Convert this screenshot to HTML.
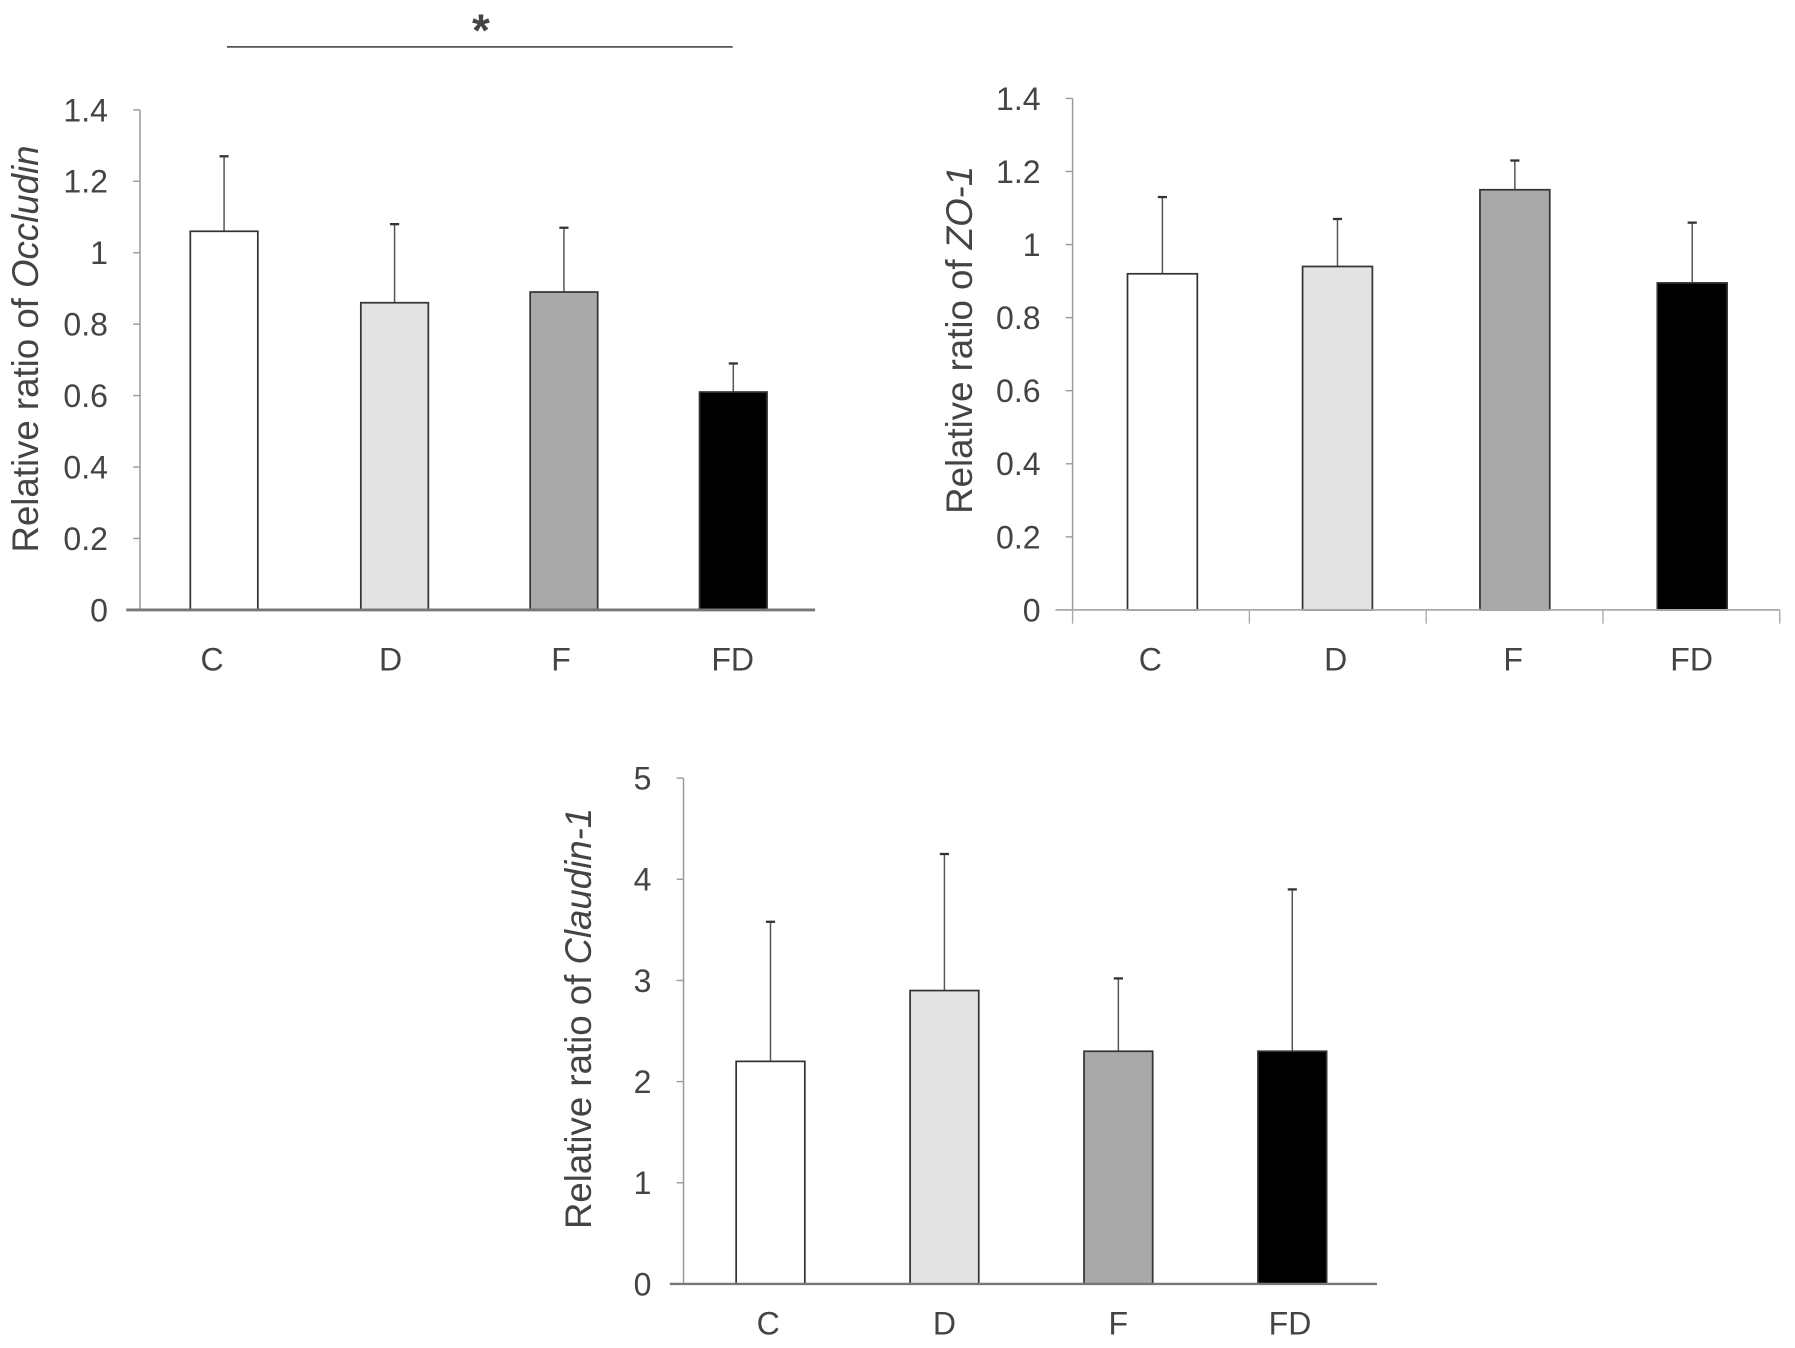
<!DOCTYPE html>
<html><head><meta charset="utf-8"><style>
html,body{margin:0;padding:0;background:#fff}
svg{display:block}
text{font-family:"Liberation Sans",Arial,sans-serif;fill:#444}
</style></head><body>
<svg id="svg" width="1795" height="1348" viewBox="0 0 1568 1178" xmlns="http://www.w3.org/2000/svg">
<g id="sig">
<line x1="198" y1="41" x2="640" y2="41" stroke="#555" stroke-width="1.5"/>
<text x="420" y="40" font-size="40" font-weight="bold" text-anchor="middle" fill="#222">*</text>
</g>
</svg>
<script>
const cats = ["C","D","F","FD"];
const fills = ["#fff","#e3e3e3","#a9a9a9","#000"];
const occludinVals = [1.06,0.86,0.89,0.61];
const occludinErr = [1.27,1.08,1.07,0.69];
const zo1Vals = [0.92,0.94,1.15,0.895];
const zo1Err = [1.13,1.07,1.23,1.06];
const claudinVals = [2.2,2.9,2.3,2.3];
const claudinErr = [3.58,4.25,3.02,3.9];
const ticks14 = [0,0.2,0.4,0.6,0.8,1,1.2,1.4];
const ticks5 = [0,1,2,3,4,5];
const NS="http://www.w3.org/2000/svg";
const svg=document.getElementById('svg');
function mk(tag,attrs,parent){const e=document.createElementNS(NS,tag);for(const k in attrs)e.setAttribute(k,attrs[k]);parent.appendChild(e);return e;}
function chart(cfg){
  const g=mk('g',{},svg);
  
  
  const y=v=>cfg.y0-(v/cfg.max)*(cfg.y0-cfg.yTop);
  mk('line',{x1:cfg.ax,y1:cfg.yTop,x2:cfg.ax,y2:cfg.y0,stroke:'#999','stroke-width':1.3},g);
  cfg.ticks.forEach(t=>{
    mk('line',{x1:cfg.ax-6,y1:y(t),x2:cfg.ax,y2:y(t),stroke:'#999','stroke-width':1.2},g);
    const tx=mk('text',{x:cfg.ax-28,y:y(t)+10,'font-size':28,'text-anchor':'end'},g);
    tx.textContent=String(t);
    
    
  });
  cats.forEach((c,i)=>{
    const x=cfg.barX[i], w=cfg.barW;
    const v=cfg.vals[i], e=cfg.err[i];
    const cx=x+w/2;
    const el=mk('line',{x1:cx,y1:y(e),x2:cx,y2:y(v),stroke:'#555','stroke-width':1.3},g);
    
    
    mk('line',{x1:cx-4,y1:y(e),x2:cx+4,y2:y(e),stroke:'#333','stroke-width':2},g);
    const r=mk('rect',{x:x,y:y(v),width:w,height:cfg.y0-y(v),fill:fills[i],stroke:'#333','stroke-width':1.5},g);
    
    
    const lt=mk('text',{x:cfg.labX[i],y:cfg.labY,'font-size':28,'text-anchor':'middle'},g);
    lt.textContent=c;
    
    
  });
  mk('line',{x1:cfg.xStart,y1:cfg.y0,x2:cfg.xEnd,y2:cfg.y0,stroke:cfg.xColor,'stroke-width':cfg.xW},g);
  if(cfg.xTicks){for(let i=0;i<=4;i++){const xx=cfg.ax+i*(cfg.xEnd-cfg.ax)/4;mk('line',{x1:xx,y1:cfg.y0,x2:xx,y2:cfg.y0+12,stroke:'#aaa','stroke-width':1.2},g);}}
  const tt=mk('text',{x:0,y:0,'font-size':32,'text-anchor':'middle',transform:`translate(${cfg.titleX},${cfg.titleY}) rotate(-90)`},g);
  
  
  tt.appendChild(document.createTextNode('Relative ratio of '));
  const ts=mk('tspan',{'font-style':'italic'},tt);ts.textContent=cfg.gene;
}
chart({name:'occludin-chart',ax:122,y0:533,yTop:96,max:1.4,ticks:ticks14,vals:occludinVals,err:occludinErr,
  barX:[166,315,463,611],barW:59,labX:[185,341,490,640],labY:586,xStart:110,xEnd:712,xColor:'#777',xW:2.5,
  titleX:33,titleY:305,gene:'Occludin'});
chart({name:'zo1-chart',ax:937,y0:533,yTop:86,max:1.4,ticks:ticks14,vals:zo1Vals,err:zo1Err,
  barX:[985,1138,1293,1448],barW:61,labX:[1005,1167,1322,1478],labY:586,xStart:922,xEnd:1555,xColor:'#aaa',xW:1.5,xTicks:true,
  titleX:849,titleY:297,gene:'ZO-1'});
chart({name:'claudin1-chart',ax:597,y0:1122,yTop:680,max:5,ticks:ticks5,vals:claudinVals,err:claudinErr,
  barX:[643,795,947,1099],barW:60,labX:[671,825,977,1127],labY:1166,xStart:585,xEnd:1203,xColor:'#777',xW:2,
  titleX:516,titleY:890,gene:'Claudin-1'});
</script>
</body></html>
